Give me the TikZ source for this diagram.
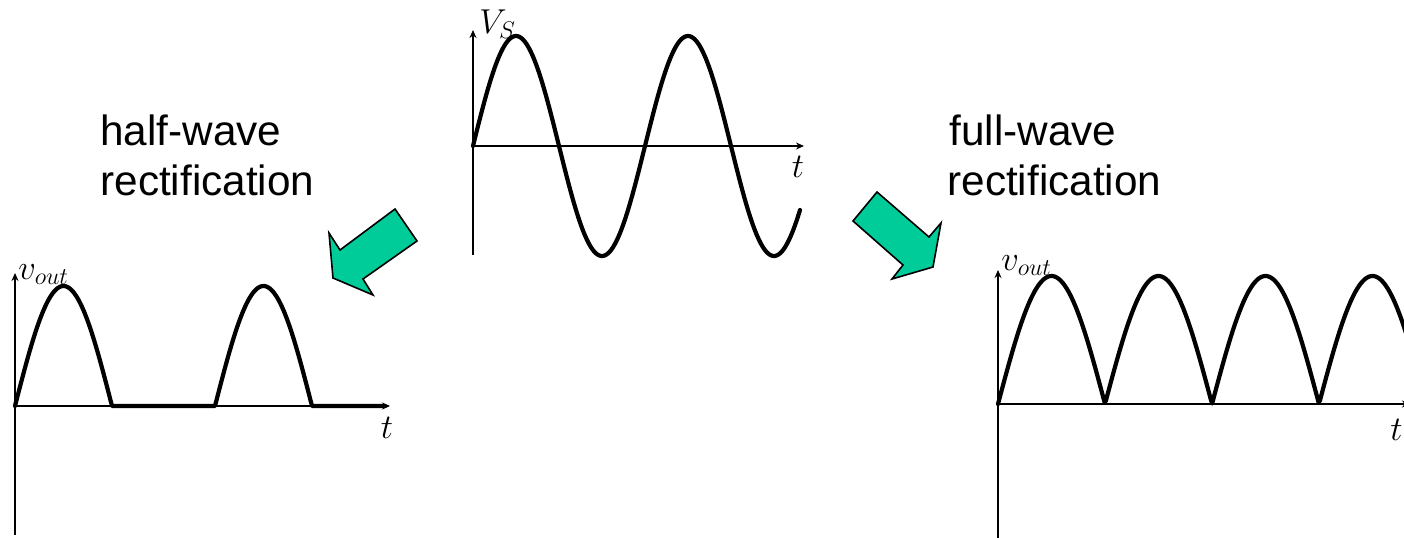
\documentclass[tikz,border=0pt]{standalone}
\usepackage{fontspec}
\setmainfont{Liberation Sans}
\usetikzlibrary{arrows.meta}
\definecolor{arrowgreen}{RGB}{0,204,153}
\begin{document}
\begin{tikzpicture}[x=0.5pt,y=-0.5pt,
  axis/.style={line width=1pt,-{Stealth[length=4pt,width=3.5pt]}},
  wave/.style={line width=2.1pt,line join=round,line cap=round},
  bigarrow/.style={fill=arrowgreen,draw=black,line width=0.8pt,line join=miter},
  caption/.style={font=\fontsize{21.15}{25}\selectfont,anchor=base west,inner sep=0pt},
  axlabel/.style={font=\fontsize{17}{20}\selectfont,inner sep=0pt}]
\clip (0,0) rectangle (1404,537);
\fill[white] (0,0) rectangle (1404,537);

% ---------- centre: source voltage ----------
\coordinate (co) at (473,146);
\coordinate (cyb) at (473,255);
\coordinate (cyt) at (473,30);
\coordinate (cxe) at (804,146);
\draw[axis] (cyb) -- (cyt);
\draw[axis] (co) -- (cxe);
\draw[wave] plot[domain=473:800,samples=220,smooth] (\x,{146-110*sin((\x-473)/172*360)});
\node[axlabel,anchor=base west] (vs) at (479,33) {$V_S$};
\node[axlabel] (tc) at (798,167) {$t$};

% ---------- left: half-wave ----------
\coordinate (lo) at (15,406);
\coordinate (lyb) at (15,535);
\coordinate (lyt) at (15,273);
\coordinate (lxe) at (390,406);
\draw[axis] (lyb) -- (lyt);
\draw[axis] (lo) -- (lxe);
\draw[wave] plot[domain=15:112,samples=80,smooth] (\x,{406-120*sin((\x-15)/97*180)})
  -- plot[domain=215:312,samples=80,smooth] (\x,{406-120*sin((\x-215)/97*180)})
  -- (385,406);
\node[axlabel,anchor=base west] (vl) at (18,279) {$v_{out}$};
\node[axlabel] (tl) at (387,428) {$t$};

% ---------- right: full-wave ----------
\coordinate (ro) at (998,404);
\coordinate (ryb) at (998,545);
\coordinate (ryt) at (998,270);
\coordinate (rxe) at (1410,404);
\draw[axis] (ryb) -- (ryt);
\draw[axis] (ro) -- (rxe);
\draw[wave] plot[domain=998:1412,samples=320] (\x,{404-128*abs(sin((\x-998)/107*180))});
\node[axlabel,anchor=base west] (vr) at (1001,270) {$v_{out}$};
\node[axlabel,anchor=east] (tr) at (1403,430) {$t$};

% ---------- captions ----------
\node[caption] (hw1) at (100,145) {half-wave};
\node[caption] (hw2) at (100,195) {rectification};
\node[caption] (fw1) at (949,145) {full-wave};
\node[caption] (fw2) at (947,195) {rectification};

% ---------- block arrows ----------
\draw[bigarrow] (395,209) -- (417,241) -- (363,279) -- (373,295) -- (333,278) -- (329,233) -- (340,250) -- cycle;
\draw[bigarrow] (877,192) -- (929,237) -- (941,223) -- (933,267) -- (892,279) -- (903,265) -- (853,221) -- cycle;
\end{tikzpicture}
\end{document}
